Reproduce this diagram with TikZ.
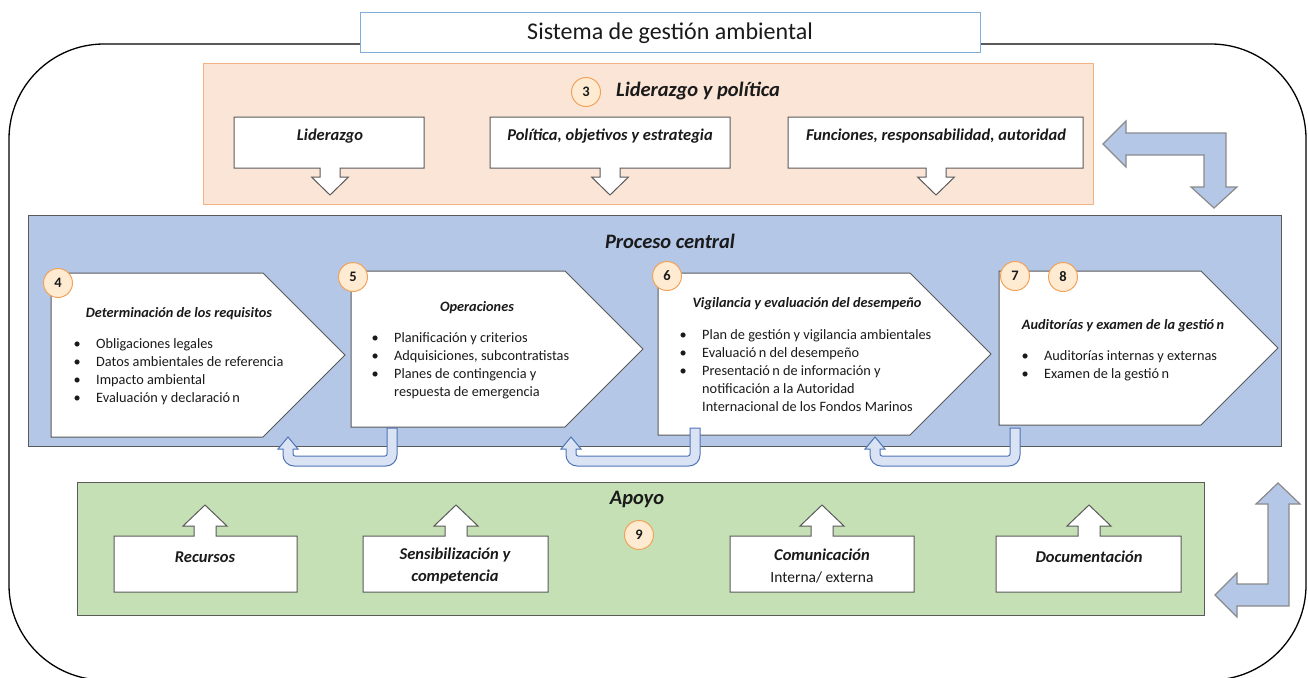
\documentclass[tikz,border=0pt]{standalone}
\usepackage{fontspec}
\setmainfont{Carlito}
\definecolor{peachfill}{HTML}{FBE5D6}
\definecolor{peachbd}{HTML}{F4B183}
\definecolor{bluefill}{HTML}{B4C7E7}
\definecolor{greenfill}{HTML}{C5E0B4}
\definecolor{panelbd}{HTML}{5A5A5A}
\definecolor{titlebd}{HTML}{7FAEDC}
\definecolor{bentbd}{HTML}{8A8A8A}
\definecolor{uturnfill}{HTML}{DAE3F3}
\definecolor{uturnbd}{HTML}{4F74B8}
\definecolor{numfill}{HTML}{FFEBD2}
\definecolor{numbd}{HTML}{F2A35A}
\definecolor{darktxt}{HTML}{1A1A1A}
\newcommand\titlefont{\fontsize{24}{28}\selectfont}
\newcommand\bigheadfont{\fontsize{20.5}{24}\selectfont\bfseries\itshape}
\newcommand\boxfont{\fontsize{16.5}{22}\selectfont\bfseries\itshape}
\newcommand\headfont{\fontsize{14.3}{18}\selectfont\bfseries\itshape}
\newcommand\listfont{\fontsize{14.3}{18}\selectfont}
\newcommand\numfont{\fontsize{14.5}{16}\selectfont\bfseries}
\newcommand\bul{\makebox[22.5pt][l]{\textbullet}}
\newcommand\nobul{\hspace*{22.5pt}}
\begin{document}
\begin{tikzpicture}[x=1pt,y=-1pt,
	frame/.style={draw=black,line width=1.3pt},
	titlebox/.style={draw=titlebd,fill=white,line width=1pt},
	panel/.style={draw=panelbd,line width=1pt},
	callout/.style={draw=panelbd,fill=white,line width=1pt},
	chev/.style={draw=panelbd,fill=white,line width=1pt},
	uturn/.style={draw=uturnbd,fill=uturnfill,line width=1pt},
	bent/.style={draw=bentbd,fill=bluefill,line width=1.2pt},
	num/.style={circle,draw=numbd,fill=numfill,line width=1pt,minimum size=29,inner sep=0,font=\numfont,text=darktxt},
	lbl/.style={inner sep=0,font=\boxfont,text=darktxt,align=center},
	bighead/.style={inner sep=0,font=\bigheadfont,text=darktxt},
	head/.style={anchor=base,inner sep=0,font=\headfont,text=darktxt},
	lst/.style={anchor=base west,inner sep=0,font=\listfont,text=darktxt}
	]
	
	\useasboundingbox (0,0) rectangle (1308,677);
	\draw[frame,rounded corners=95] (9,44) rectangle (1306,680);
	\node[titlebox,minimum width=620,minimum height=40,font=\titlefont,text=darktxt] (sga) at (670,33) {Sistema de gestión ambiental};
	
	% liderazgo
	\draw[panel,draw=peachbd,fill=peachfill] (203,64) rectangle (1093,204);
	\node[num] (n3) at (586,92) {3};
	\node[bighead] (lyp) at (698,91) {Liderazgo y política};
	\foreach \xa/\xb/\xc in {234/424/330, 490/730/610, 788/1083/936}
	\draw[callout] (\xa,117) -- (\xb,117) -- (\xb,168) -- ({\xc+10},168) -- ({\xc+10},177) -- ({\xc+18.5},177) -- (\xc,195) -- ({\xc-18.5},177) -- ({\xc-10},177) -- ({\xc-10},168) -- (\xa,168) -- cycle;
	\node[lbl] (lid) at (330,136) {Liderazgo};
	\node[lbl] (pol) at (610,136) {Política, objetivos y estrategia};
	\node[lbl] (fun) at (936,136) {Funciones, responsabilidad, autoridad};
	
	\draw[bent] (1103,144) -- (1126,121) -- (1126,133) -- (1226,133) -- (1226,187) -- (1237,187) -- (1214,208) -- (1191,187) -- (1204,187) -- (1204,155) -- (1126,155) -- (1126,167) -- cycle;
	
	% proceso central
	\draw[panel,fill=bluefill] (28,215) rectangle (1281,446);
	\node[bighead] (pc) at (670,241) {Proceso central};
	
	\draw[chev] (51,273) -- (263,273) -- (345,355) -- (263,437) -- (51,437) -- cycle;
	\draw[chev] (351,271) -- (565,271) -- (643,349) -- (565,427) -- (351,427) -- cycle;
	\draw[chev] (658,273) -- (910,273) -- (991,354) -- (910,435) -- (658,435) -- cycle;
	\draw[chev] (999,271) -- (1201,271) -- (1278,348) -- (1201,425) -- (999,425) -- cycle;
	
	\node[head] (h4) at (179,317) {Determinación de los requisitos};
	\node[lst] (l4) at (73.5,348) {\begin{tabular}[t]{@{}l@{}}
			\bul Obligaciones legales\\
			\bul Datos ambientales de referencia\\
			\bul Impacto ambiental\\
			\bul Evaluación y declaració\,n
	\end{tabular}};
	\node[head] (h5) at (477,311) {Operaciones};
	\node[lst] (l5) at (371.5,342) {\begin{tabular}[t]{@{}l@{}}
			\bul Planificación y criterios\\
			\bul Adquisiciones, subcontratistas\\
			\bul Planes de contingencia y\\
			\nobul respuesta de emergencia
	\end{tabular}};
	\node[head] (h6) at (807,307) {Vigilancia y evaluación del desempeño};
	\node[lst] (l6) at (679.5,339) {\begin{tabular}[t]{@{}l@{}}
			\bul Plan de gestión y vigilancia ambientales\\
			\bul Evaluació\,n del desempeño\\
			\bul Presentació\,n de información y\\
			\nobul notificación a la Autoridad\\
			\nobul Internacional de los Fondos Marinos
	\end{tabular}};
	\node[head] (h7) at (1123,329) {Auditorías y examen de la gestió\,n};
	\node[lst] (l7) at (1021.5,360) {\begin{tabular}[t]{@{}l@{}}
			\bul Auditorías internas y externas\\
			\bul Examen de la gestió\,n
	\end{tabular}};
	
	\node[num] (n4) at (58,283) {4};
	\node[num] (n5) at (353,277) {5};
	\node[num] (n6) at (667,276) {6};
	\node[num] (n7) at (1015,276) {7};
	\node[num] (n8) at (1063,277) {8};
	
	\foreach \xr/\xl in {397/283, 700/566, 1020/870}
	\draw[uturn] (\xr,428) -- (\xr,455) arc[start angle=0,end angle=90,radius=11] -- ({\xl+11},466) arc[start angle=90,end angle=180,radius=11] -- (\xl,449) -- ({\xl-5},449) -- ({\xl+5},437) -- ({\xl+15},449) -- ({\xl+10},449) -- ({\xl+10},454) arc[start angle=180,end angle=90,radius=2] -- ({\xr-12},456) arc[start angle=90,end angle=0,radius=2] -- ({\xr-10},428) -- cycle;
	
	% apoyo
	\draw[panel,fill=greenfill] (77,482) rectangle (1204,615);
	\node[bighead] (apo) at (637,499) {Apoyo};
	\node[num] (n9) at (639,535) {9};
	\foreach \xa/\xb/\xc in {114/297/205, 363/548/456, 730/914/822, 996/1181/1089}
	\draw[callout] (\xa,592) -- (\xb,592) -- (\xb,536) -- ({\xc+11},536) -- ({\xc+11},526) -- ({\xc+22},526) -- (\xc,505) -- ({\xc-22},526) -- ({\xc-11},526) -- ({\xc-11},536) -- (\xa,536) -- cycle;
	\node[lbl] (rec) at (205,557) {Recursos};
	\node[lbl] (sen) at (455,566) {Sensibilización y\\competencia};
	\node[lbl] (com) at (822,566) {Comunicación\\{\normalfont\fontsize{15.5}{22}\selectfont Interna/ externa}};
	\node[lbl] (doc) at (1089,557) {Documentación};
	
	\draw[bent] (1278,483) -- (1300,504) -- (1289,504) -- (1289,606) -- (1237,606) -- (1237,617) -- (1215,595) -- (1237,573) -- (1237,584) -- (1268,584) -- (1268,504) -- (1256,504) -- cycle;
\end{tikzpicture}
\end{document}
